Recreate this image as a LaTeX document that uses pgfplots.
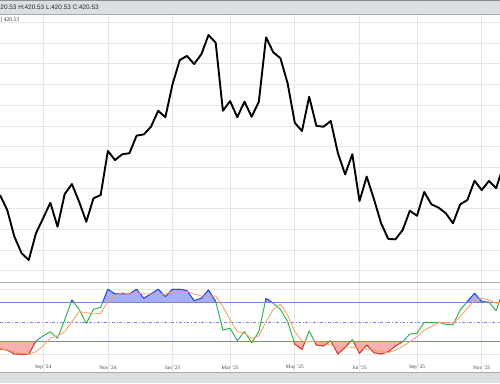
\documentclass[border=0pt]{standalone}
\usepackage{pgfplots}
\usepackage{pgfplotstable}
\pgfplotsset{compat=1.18}
\usepackage{fontspec}
\setmainfont{Liberation Serif}
\newfontfamily\hdrfont{Liberation Sans}
\definecolor{hdrgray}{HTML}{DCDFE2}
\definecolor{hdrline}{HTML}{8A8E93}
\definecolor{gridc}{HTML}{E6E6E6}
\definecolor{sepc}{HTML}{A9A9A9}
\definecolor{kgreen}{HTML}{2DB24A}
\definecolor{kblue}{HTML}{2B3FF2}
\definecolor{kred}{HTML}{F02A2A}
\definecolor{dorange}{HTML}{F5A262}
\definecolor{thr}{HTML}{7A82DA}
\definecolor{bfill}{HTML}{A7AEF5}
\definecolor{rfill}{HTML}{F9B0B0}

\pgfplotstableread{
i p k d
0 406.6 8.2 8.7
1 399.4 6.6 6.6
2 386.5 0.5 4.0
3 378.5 0.0 1.5
4 375.2 0.0 0.0
5 388.1 20.5 4.0
6 395.4 28.2 12.8
7 402.9 34.8 24.6
8 391.3 24.6 28.2
9 407.1 52.8 34.8
10 411.9 83.5 50.2
11 403.4 69.2 65.6
12 393.7 47.6 64.0
13 405.0 69.2 62.0
14 406.6 72.3 63.0
15 427.9 100 81.0
16 423.5 92.8 89.7
17 426.3 92.8 94.8
18 426.8 92.8 92.8
19 435.3 100 94.8
20 435.9 86.1 92.8
21 439.6 92.8 92.8
22 447.3 100 92.8
23 444.2 88.7 92.8
24 460.2 100 96.4
25 471.8 100 96.4
26 473.8 97.9 96.4
27 469.9 82.5 92.8
28 474.6 86.1 89.7
29 483.9 98.9 89.7
30 480.2 81.0 89.7
31 447.3 37.4 73.3
32 452.0 40.0 52.8
33 444.2 21.0 34.8
34 451.7 34.8 32.3
35 444.4 18.0 24.6
36 451.7 34.8 28.2
37 482.8 86.1 50.2
38 475.6 78.4 69.2
39 472.7 69.2 76.9
40 460.6 50.2 60.5
41 441.5 15.8 34.8
42 437.5 7.6 20.5
43 454.1 35.8 19.4
44 440.0 14.3 20.5
45 439.6 12.8 16.9
46 442.4 21.0 14.3
47 426.8 0.5 10.7
48 416.6 10.7 11.7
49 426.3 23.0 10.7
50 403.7 1.5 10.7
51 415.5 14.3 7.6
52 404.7 2.5 6.6
53 393.0 0.5 4.0
54 385.4 4.0 2.5
55 385.2 12.8 6.6
56 389.7 19.4 11.7
57 399.0 31.2 19.4
58 396.6 32.3 27.1
59 408.1 49.2 37.4
60 402.1 48.7 42.5
61 400.5 49.2 48.7
62 397.8 46.1 48.7
63 393.0 45.1 47.6
64 402.1 68.2 57.9
65 404.2 81.0 70.7
66 413.5 93.8 83.5
67 409.0 81.0 86.1
68 413.4 80.0 83.5
69 409.9 67.1 78.4
70 420.53 97.0 81.0
}\data

\pgfplotsset{
  panel/.style={scale only axis, width=500pt, xmin=0, xmax=69.54, clip=true, anchor=south west},
  bare/.style={panel, hide axis},
}

\begin{document}
\begin{tikzpicture}[x=1pt,y=1pt]
\fill[white] (0,0) rectangle (500,383);

% main price panel
\begin{axis}[panel, at={(0pt,101pt)}, height=268pt,
  ymin=364.59, ymax=494.06,
  axis line style={draw=none},
  xtick={6,15,24,32,41,50,58,67}, ytick={370,380,...,490},
  xticklabel=\empty, yticklabel=\empty,
  major tick length=0pt,
  grid=major, major grid style={gridc, line width=0.7pt}]
\addplot[black, line width=1.9pt, line join=round] table[x=i,y=p]{\data};
\end{axis}

% lower panel base
\begin{axis}[panel, at={(0pt,10pt)}, height=91pt,
  ymin=-28.8, ymax=111.2, axis line style={draw=none},
  xtick={6,15,24,32,41,50,58,67},
  xticklabels={Sep '24,Nov '24,Jan '25,Mar '25,May '25,Jul '25,Sep '25,Nov '25},
  xticklabel style={font=\fontsize{5.2}{5.2}\selectfont, text=black!75, anchor=center, yshift=5.5pt},
  ytick={0,100}, yticklabel=\empty,
  major tick length=0pt,
  grid=major, major grid style={gridc, line width=0.7pt}]
\addplot[thr, line width=0.45pt, dash dot] coordinates {(0,50) (70,50)};
\addplot[kgreen, line width=0.95pt, line join=round] table[x=i,y=k]{\data};
\end{axis}

% blue overlay (above 80)
\begin{axis}[bare, at={(0pt,80.72pt)}, height=20.28pt, ymin=80, ymax=111.2]
\addplot[fill=bfill, draw=none] table[x=i,y=k]{\data} -- (axis cs:70,-100) -- (axis cs:0,-100) -- cycle;
\addplot[kblue, line width=0.95pt, line join=round] table[x=i,y=k]{\data};
\end{axis}

% red overlay (below 20)
\begin{axis}[bare, at={(0pt,10pt)}, height=31.72pt, ymin=-28.8, ymax=20]
\addplot[fill=rfill, draw=none] table[x=i,y=k]{\data} -- (axis cs:70,300) -- (axis cs:0,300) -- cycle;
\addplot[kred, line width=0.95pt, line join=round] table[x=i,y=k]{\data};
\end{axis}

% thresholds and %D line
\begin{axis}[bare, at={(0pt,10pt)}, height=91pt, ymin=-28.8, ymax=111.2]
\addplot[thr, line width=0.8pt] coordinates {(0,80) (70,80)};
\addplot[thr, line width=0.8pt] coordinates {(0,20) (70,20)};
\addplot[dorange, line width=0.85pt, line join=round] table[x=i,y=d]{\data};
\end{axis}

% panel frames
\draw[sepc, line width=1pt] (0,101) -- (500,101);
\fill[hdrgray] (0,369) rectangle (500,383);
\draw[hdrline, line width=1.2pt] (0,382.4) -- (500,382.4);
\draw[sepc, line width=0.8pt] (0,369) -- (500,369);
\node[anchor=west, inner sep=0pt, font=\hdrfont\fontsize{6.4}{7}\selectfont, text=black!85] at (0.3,376) {20.53 H:420.53 L:420.53 C:420.53};
\node[anchor=west, inner sep=0pt, font=\fontsize{5.6}{6}\selectfont, text=black!80] at (0.3,363.3) {] 420.53};
\fill[hdrgray] (0,0) rectangle (500,10.5);
\draw[sepc, line width=0.8pt] (0,10.5) -- (500,10.5);
\pgfresetboundingbox
\path[use as bounding box] (0,0) rectangle (500,383);
\end{tikzpicture}
\end{document}
